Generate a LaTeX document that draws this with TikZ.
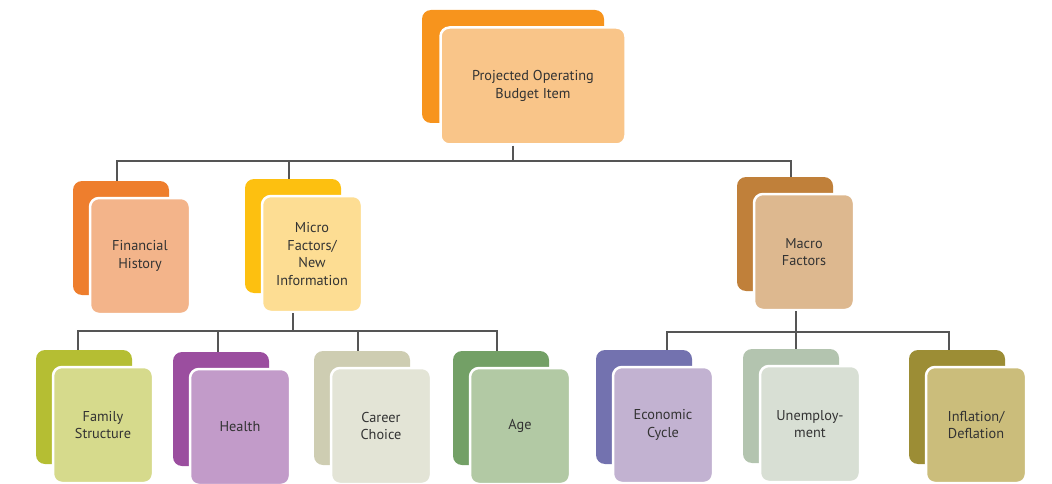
\documentclass[tikz,border=0pt]{standalone}
\usepackage{fontspec}
\setmainfont{PT Sans}
\definecolor{txt}{HTML}{333333}
\definecolor{linec}{HTML}{555555}
\definecolor{topD}{HTML}{F7941D}\definecolor{topL}{HTML}{F9C589}
\definecolor{finD}{HTML}{EE7E2D}\definecolor{finL}{HTML}{F3B48A}
\definecolor{micD}{HTML}{FDC010}\definecolor{micL}{HTML}{FDDD93}
\definecolor{macD}{HTML}{C0803A}\definecolor{macL}{HTML}{DDB88F}
\definecolor{famD}{HTML}{B5BE33}\definecolor{famL}{HTML}{D6DA8C}
\definecolor{heaD}{HTML}{9B4E9F}\definecolor{heaL}{HTML}{C29BC9}
\definecolor{carD}{HTML}{CECDB2}\definecolor{carL}{HTML}{E3E4D6}
\definecolor{ageD}{HTML}{73A066}\definecolor{ageL}{HTML}{B2C9A4}
\definecolor{ecoD}{HTML}{7372AF}\definecolor{ecoL}{HTML}{C2B2D1}
\definecolor{uneD}{HTML}{B3C4AF}\definecolor{uneL}{HTML}{D8DFD4}
\definecolor{infD}{HTML}{9C8D35}\definecolor{infL}{HTML}{CBBD7B}
\newcommand\mycard[6]{%
  \node[back, fill=#4] (#1b) at (#2,#3) {};
  \node[front, fill=#5] (#1f) at (#2+19,#3+18) {#6};}
\begin{document}
\begin{tikzpicture}[x=1pt,y=-1pt,
  back/.style={rectangle, rounded corners=9pt, minimum width=96pt, minimum height=114pt, inner sep=0pt},
  front/.style={rectangle, rounded corners=9pt, draw=white, line width=2.5pt, minimum width=100pt, minimum height=116pt, align=center, font=\fontsize{14.3}{17.6}\selectfont, text=txt, inner sep=0pt},
  conn/.style={draw=linec, line width=1.1pt}]
\useasboundingbox (0,0) rectangle (1052,484);
% top
\node[back, fill=topD, minimum width=182pt, minimum height=113pt] (topb) at (513,66.5) {};
\node[front, fill=topL, minimum width=185pt, minimum height=117pt] (topf) at (533,86) {Projected Operating\\Budget Item};
% level 2
\mycard{fin}{121}{238}{finD}{finL}{Financial\\History}
\mycard{mic}{293}{236}{micD}{micL}{Micro\\Factors/\\New\\Information}
\mycard{mac}{785}{234}{macD}{macL}{Macro\\Factors}
% level 3
\mycard{fam}{84}{407}{famD}{famL}{Family\\Structure}
\mycard{hea}{221}{409}{heaD}{heaL}{Health}
\mycard{car}{362}{408}{carD}{carL}{Career\\Choice}
\mycard{age}{501}{408}{ageD}{ageL}{Age}
\mycard{eco}{644}{407}{ecoD}{ecoL}{Economic\\Cycle}
\mycard{une}{791}{406}{uneD}{uneL}{Unemploy-\\ment}
\mycard{inf}{957}{407}{infD}{infL}{Inflation/\\Deflation}
% buses
\coordinate (bus1) at (513,161);
\coordinate (bus2) at (293,331);
\coordinate (bus3) at (796,332);
% connectors
\draw[conn] (topf.south -| topb.south) -- (bus1);
\draw[conn] ([xshift=-4pt]finb.north) |- (bus1) -| ([xshift=6pt]macb.north);
\draw[conn] ([xshift=-4pt]micb.north) -- ([xshift=-4pt]micb.north |- bus1);
\draw[conn] (micf.south -| micb.south) -- (bus2);
\draw[conn] ([xshift=-6pt]famb.north) |- (bus2) -| ([xshift=-4pt]ageb.north);
\draw[conn] ([xshift=-3pt]heab.north) -- ([xshift=-3pt]heab.north |- bus2);
\draw[conn] ([xshift=-4pt]carb.north) -- ([xshift=-4pt]carb.north |- bus2);
\draw[conn] (macf.south -| bus3) -- (bus3);
\draw[conn] ([xshift=23pt]ecob.north) |- (bus3) -| ([xshift=-8pt]infb.north);
\draw[conn] ([xshift=5pt]uneb.north) -- ([xshift=5pt]uneb.north |- bus3);
\end{tikzpicture}
\end{document}
